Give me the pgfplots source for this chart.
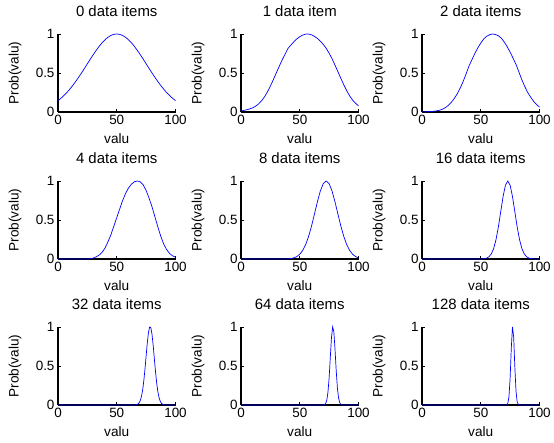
\documentclass[border=0pt]{standalone}
\usepackage{pgfplots}
\pgfplotsset{compat=1.18}
\usepackage{fontspec}
\setmainfont{Liberation Sans}

\pgfplotsset{
  panel/.style={
    scale only axis, width=117.5bp, height=78bp,
    xmin=0, xmax=100, ymin=0, ymax=1,
    axis x line*=bottom, axis y line*=left,
    axis line style={line width=1.1bp, black},
    xtick={0,50,100}, ytick={0,0.5,1},
    tick align=inside, major tick length=3bp,
    tick style={line width=0.7bp, black},
    /pgf/number format/assume math mode=true,
    tick label style={font=\fontsize{13.5}{15}\selectfont},
    xlabel={valu}, ylabel={Prob(valu)},
    label style={font=\fontsize{13.7}{15}\selectfont},
    xlabel style={at={(axis description cs:0.5,-0.346)}, anchor=center},
    ylabel style={at={(axis description cs:-0.366,0.5)}, anchor=center},
    title style={font=\fontsize{15}{16}\selectfont, at={(axis description cs:0.5,1.218)}, anchor=center},
    every axis plot/.append style={blue, line width=0.7bp, no marks},
    clip=false,
  }
}

\begin{document}
\begin{tikzpicture}
\useasboundingbox (0,0) rectangle (554bp,443bp);

% ---- row 1 ----
\begin{axis}[panel, at={(58bp,331bp)}, title={0 data items}]
\addplot coordinates {
(0,0.146) (2.5,0.176) (5,0.211) (7.5,0.249) (10,0.292) (12.5,0.339) (15,0.390)
(17.5,0.444) (20,0.500) (22.5,0.559) (25,0.618) (27.5,0.678) (30,0.735)
(32.5,0.790) (35,0.841) (37.5,0.887) (40,0.926) (42.5,0.958) (45,0.981)
(47.5,0.995) (50,1) (52.5,0.995) (55,0.981) (57.5,0.958) (60,0.926)
(62.5,0.887) (65,0.841) (67.5,0.790) (70,0.735) (72.5,0.678) (75,0.618)
(77.5,0.559) (80,0.500) (82.5,0.444) (85,0.390) (87.5,0.339) (90,0.292)
(92.5,0.249) (95,0.211) (97.5,0.176) (100,0.146)};
\end{axis}

\begin{axis}[panel, at={(241bp,331bp)}, title={1 data item}]
\addplot coordinates {
(0,0.014) (2.5,0.021) (5,0.029) (7.5,0.040) (10,0.054) (12.5,0.075) (15,0.104)
(17.5,0.143) (20,0.194) (22.5,0.258) (25,0.332) (27.5,0.414) (30,0.499)
(32.5,0.584) (35,0.667) (37.5,0.741) (40,0.816) (42.5,0.858) (45,0.901)
(47.5,0.937) (50,0.965) (52.5,0.986) (55,0.998) (56.5,1) (57.5,0.999)
(60,0.989) (62.5,0.970) (65,0.943) (67.5,0.909) (70,0.867) (72.5,0.816)
(75,0.754) (77.5,0.683) (80,0.601) (82.5,0.516) (85,0.431) (87.5,0.348)
(90,0.272) (92.5,0.206) (95,0.152) (97.5,0.111) (100,0.080)};
\end{axis}

\begin{axis}[panel, at={(422bp,331bp)}, title={2 data items}]
\addplot coordinates {
(0,0.001) (2.5,0.002) (5,0.004) (7.5,0.006) (10,0.009) (12.5,0.015) (15,0.023)
(17.5,0.036) (20,0.057) (22.5,0.087) (25,0.125) (27.5,0.174) (30,0.233)
(32.5,0.306) (35,0.390) (37.5,0.488) (40,0.590) (42.5,0.670) (45,0.752)
(47.5,0.822) (50,0.883) (52.5,0.936) (55,0.971) (57.5,0.991) (60,1)
(62.5,0.994) (65,0.977) (67.5,0.947) (70,0.897) (72.5,0.837) (75,0.768)
(77.5,0.690) (80,0.610) (82.5,0.512) (85,0.412) (87.5,0.325) (90,0.249)
(92.5,0.190) (95,0.136) (97.5,0.095) (100,0.063)};
\end{axis}

% ---- row 2 ----
\begin{axis}[panel, at={(58bp,184bp)}, title={4 data items}]
\addplot coordinates {
(0,0) (25,0) (27.5,0.005) (30,0.012) (32.5,0.028) (35,0.05) (37.5,0.085)
(40,0.14) (42.5,0.22) (45,0.31) (47.5,0.42) (50,0.53) (52.5,0.64) (55,0.75)
(57.5,0.84) (60,0.91) (62.5,0.96) (65,0.99) (67.5,1) (70,0.99) (72.5,0.95)
(75,0.88) (77.5,0.78) (80,0.67) (82.5,0.54) (85,0.41) (87.5,0.29) (90,0.19)
(92.5,0.12) (95,0.07) (97.5,0.04) (100,0.025)};
\end{axis}

\begin{axis}[panel, at={(241bp,184bp)}, title={8 data items}]
\addplot coordinates {
(0,0) (35,0) (37.5,0.001) (40,0.003) (42.5,0.007) (45,0.015) (47.5,0.031)
(50,0.061) (52.5,0.109) (55,0.183) (57.5,0.288) (60,0.421) (62.5,0.575)
(65,0.732) (67.5,0.871) (70,0.966) (72.5,1) (75,0.966) (77.5,0.871)
(80,0.732) (82.5,0.575) (85,0.421) (87.5,0.288) (90,0.183) (92.5,0.109)
(95,0.061) (97.5,0.031) (100,0.015)};
\end{axis}

\begin{axis}[panel, at={(422bp,184bp)}, title={16 data items}]
\addplot coordinates {
(0,0) (48,0) (51,0.001) (53,0.004) (55,0.011) (57,0.029) (59,0.066)
(61,0.135) (63,0.249) (65,0.411) (67,0.607) (69,0.801) (71,0.946) (73,1)
(75,0.946) (77,0.801) (79,0.607) (81,0.411) (83,0.249) (85,0.135)
(87,0.066) (89,0.029) (91,0.011) (93,0.004) (95,0.001) (100,0)};
\end{axis}

% ---- row 3 ----
\begin{axis}[panel, at={(58bp,38bp)}, title={32 data items}]
\addplot coordinates {
(0,0) (65,0) (66,0.002) (67,0.005) (68,0.012) (69,0.027) (70,0.056)
(71,0.108) (72,0.189) (73,0.306) (74,0.457) (75,0.628) (76,0.795)
(77,0.929) (78,1) (79,0.991) (80,0.907) (81,0.764) (82,0.593) (83,0.425)
(84,0.280) (85,0.170) (86,0.095) (87,0.049) (88,0.023) (89,0.010)
(90,0.004) (91,0.001) (100,0)};
\end{axis}

\begin{axis}[panel, at={(241bp,38bp)}, title={64 data items}]
\addplot coordinates {
(0,0) (69,0) (70,0.001) (71,0.005) (72,0.019) (73,0.061) (74,0.163)
(75,0.348) (76,0.609) (77,0.865) (78,1) (79,0.940) (80,0.718) (81,0.447)
(82,0.226) (83,0.093) (84,0.031) (85,0.008) (86,0.002) (87,0) (100,0)};
\end{axis}

\begin{axis}[panel, at={(422bp,38bp)}, title={128 data items}]
\addplot coordinates {
(0,0) (71,0) (72,0.003) (73,0.020) (74,0.104) (75,0.344) (76,0.733)
(77,1) (78,0.875) (79,0.491) (80,0.177) (81,0.040) (82,0.006) (83,0.001)
(84,0) (100,0)};
\end{axis}
\end{tikzpicture}
\end{document}
